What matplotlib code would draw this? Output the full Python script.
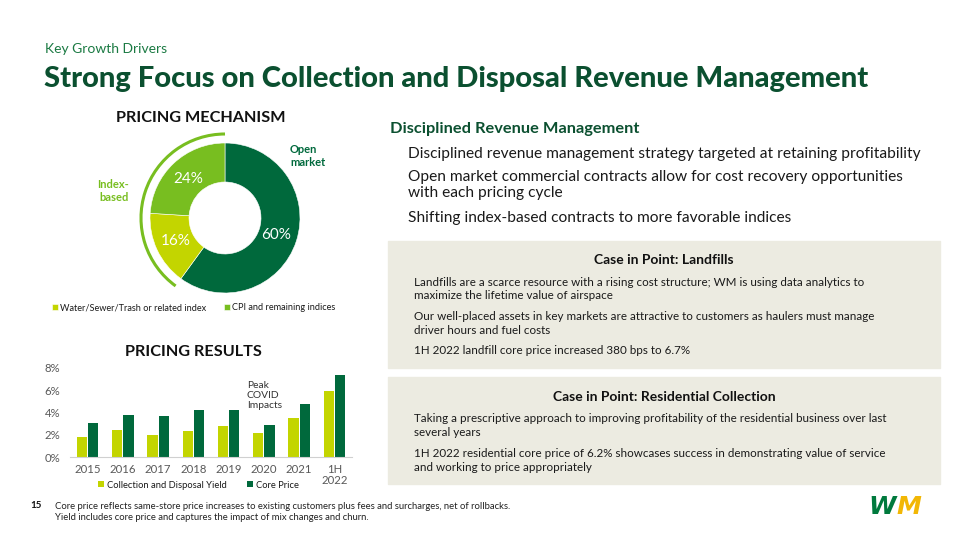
import matplotlib.pyplot as plt
from matplotlib.patches import Arc, Rectangle

plt.rcParams['font.family'] = ['Lato', 'DejaVu Sans']

W, H = 960, 540

# donut data
mech_labels = ["Open market", "Water/Sewer/Trash or related index", "CPI and remaining indices"]
mech_values = [60, 16, 24]

# bar data
years = ["2015", "2016", "2017", "2018", "2019", "2020", "2021", "1H\n2022"]
yield_pct = [1.8, 2.4, 2.0, 2.3, 2.8, 2.2, 3.5, 5.9]
core_pct = [3.1, 3.8, 3.7, 4.2, 4.2, 2.9, 4.8, 7.4]

DARK = "#00693C"
LIME = "#C3D500"
MID = "#78BE20"
TITLE = "#0B5030"
BEIGE = "#ECEBE1"
TXT = "#1A1A1A"


def fx(x):
    return x / W


def fy(y):
    return 1 - y / H


def box(x0, y0, x1, y1):
    return [fx(x0), fy(y1), (x1 - x0) / W, (y1 - y0) / H]


fig = plt.figure(figsize=(9.6, 5.4), dpi=100)

# header
fig.text(fx(45), fy(49), "Key Growth Drivers", color="#1B7A43", fontsize=10, va="center")
fig.text(fx(44), fy(79), "Strong Focus on Collection and Disposal Revenue Management",
         color=TITLE, fontsize=21, fontweight="black", va="center")

# ---- donut ----
fig.text(fx(201), fy(118), "PRICING MECHANISM", fontsize=11.7, fontweight="bold",
         color="#111111", ha="center", va="center")
ax1 = fig.add_axes(box(125, 118, 325, 318))
wedges, _, autotexts = ax1.pie(mech_values, radius=75, startangle=90, counterclock=False,
                               colors=[DARK, LIME, MID], autopct="%d%%", pctdistance=0.72,
                               wedgeprops=dict(width=39, edgecolor="white", linewidth=0.4),
                               textprops=dict(color="white", fontsize=11))
ax1.add_patch(Arc((0, 0), 168, 168, theta1=90, theta2=234, color=MID, lw=2.2))
ax1.set_xlim(-100, 100)
ax1.set_ylim(-100, 100)
ax1.set_aspect("equal")
ax1.axis("off")

fig.text(fx(290), fy(156), "Open\nmarket", color=DARK, fontsize=8, fontweight="bold",
         va="center", ha="left", linespacing=1.25)
fig.text(fx(129), fy(191), "Index-\nbased", color=MID, fontsize=8, fontweight="bold",
         va="center", ha="right", linespacing=1.25)

fig.legend(handles=wedges[1:], labels=mech_labels[1:], ncol=2, frameon=False,
           loc="center left", bbox_to_anchor=(fx(44), fy(308)), fontsize=6.6,
           handlelength=0.6, handleheight=0.6, handletextpad=0.3, columnspacing=1.9,
           labelcolor=TXT)

# ---- bars ----
fig.text(fx(193), fy(352), "PRICING RESULTS", fontsize=11.7, fontweight="bold",
         color="#111111", ha="center", va="center")
ax2 = fig.add_axes(box(70, 368, 352, 457))
x = range(len(years))
bw = 0.29
ax2.bar([i - 0.16 for i in x], yield_pct, bw, color=LIME, label="Collection and Disposal Yield")
ax2.bar([i + 0.16 for i in x], core_pct, bw, color=DARK, label="Core Price")
ax2.set_xlim(-0.5, len(years) - 0.5)
ax2.set_ylim(0, 8)
ax2.set_yticks([0, 2, 4, 6, 8])
ax2.set_yticklabels(["0%", "2%", "4%", "6%", "8%"])
ax2.set_xticks(list(x))
ax2.set_xticklabels(years, linespacing=1.0)
ax2.tick_params(length=0, labelsize=8.2, labelcolor="#595959")
ax2.tick_params(axis="y", pad=7)
ax2.tick_params(axis="x", pad=5)
for s in ["top", "right", "left"]:
    ax2.spines[s].set_visible(False)
ax2.spines["bottom"].set_color("#D0D0D0")
ax2.text(5.0 - 0.48, 6.8, "Peak\nCOVID\nImpacts", fontsize=7.4, color="#333333",
         va="top", ha="left", linespacing=1.12)
fig.legend(loc="center left", bbox_to_anchor=(fx(90), fy(485)), ncol=2, frameon=False,
           handles=ax2.containers, labels=["Collection and Disposal Yield", "Core Price"],
           fontsize=6.75, handlelength=0.6, handleheight=0.6, handletextpad=0.3,
           columnspacing=2.2, labelcolor=TXT)

# ---- right panel ----
fig.text(fx(390), fy(129), "Disciplined Revenue Management", color=TITLE, fontsize=11.8,
         fontweight="bold", va="center")
for yy, t in [(154, "Disciplined revenue management strategy targeted at retaining profitability"),
              (185, "Open market commercial contracts allow for cost recovery opportunities\nwith each pricing cycle"),
              (218, "Shifting index-based contracts to more favorable indices")]:
    fig.text(fx(408), fy(yy), t, color=TXT, fontsize=11.2, va="center", linespacing=1.12)

fig.patches.append(Rectangle((fx(388), fy(368)), (940 - 388) / W, (368 - 241) / H,
                             transform=fig.transFigure, color=BEIGE, zorder=0))
fig.patches.append(Rectangle((fx(388), fy(484)), (940 - 388) / W, (484 - 377) / H,
                             transform=fig.transFigure, color=BEIGE, zorder=0))

fig.text(fx(664), fy(260), "Case in Point: Landfills", color="#111111", fontsize=10,
         fontweight="bold", ha="center", va="center")
for yy, t in [(289, "Landfills are a scarce resource with a rising cost structure; WM is using data analytics to\nmaximize the lifetime value of airspace"),
              (323.5, "Our well-placed assets in key markets are attractive to customers as haulers must manage\ndriver hours and fuel costs"),
              (351, "1H 2022 landfill core price increased 380 bps to 6.7%")]:
    fig.text(fx(414), fy(yy), t, color=TXT, fontsize=8.4, va="center", linespacing=1.25)

fig.text(fx(664), fy(397), "Case in Point: Residential Collection", color="#111111", fontsize=10,
         fontweight="bold", ha="center", va="center")
for yy, t in [(425.5, "Taking a prescriptive approach to improving profitability of the residential business over last\nseveral years"),
              (460.5, "1H 2022 residential core price of 6.2% showcases success in demonstrating value of service\nand working to price appropriately")]:
    fig.text(fx(414), fy(yy), t, color=TXT, fontsize=8.4, va="center", linespacing=1.25)

# footer
fig.text(fx(30), fy(506), "15", fontsize=7, fontweight="bold", color="#111111", va="center")
fig.text(fx(55), fy(512), "Core price reflects same-store price increases to existing customers plus fees and surcharges, net of rollbacks.\n"
         "Yield includes core price and captures the impact of mix changes and churn.",
         fontsize=6.85, color="#222222", va="center", linespacing=1.15)

# logo
fig.text(fx(868), fy(507), "W", fontsize=18, fontweight="bold", fontstyle="italic",
         color="#007A3D", va="center", ha="left", family="DejaVu Sans")
fig.text(fx(896), fy(507), "M", fontsize=18, fontweight="bold", fontstyle="italic",
         color="#F2B705", va="center", ha="left", family="DejaVu Sans")

fig.savefig("out.png", dpi=100)
